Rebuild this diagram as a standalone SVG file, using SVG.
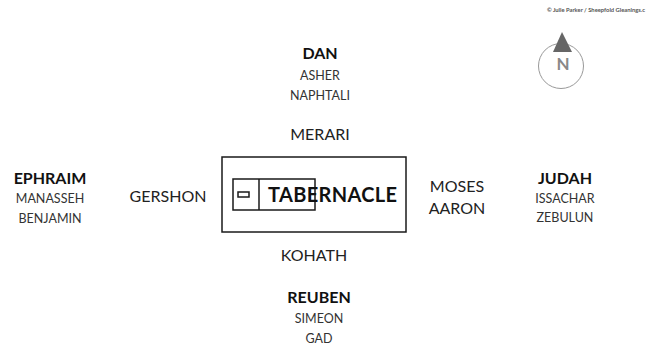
<svg xmlns="http://www.w3.org/2000/svg" width="646" height="345" viewBox="0 0 646 345">
<style>
text{font-family:"Lato","Liberation Sans",sans-serif;fill:#111;text-anchor:middle}
.tribe{font-size:16px;font-weight:bold}
.sub{font-size:12.5px;fill:#333}
.levi{font-size:16px;fill:#222}
.box{fill:none;stroke:#1a1a1a;stroke-width:1.5}
</style>
<rect width="646" height="345" fill="#fff"/>
<text x="645" y="12" style="font-size:5.8px;font-weight:bold;fill:#555;text-anchor:end">© Julie Parker / Sheepfold Gleanings.c</text>
<g id="compass">
<circle cx="561" cy="66" r="22.5" fill="none" stroke="#999" stroke-width="1"/>
<polygon points="562,32 553,52 572,52" fill="#666"/>
<text x="563" y="70" style="font-size:17px;font-weight:bold;fill:#888">N</text>
</g>
<g id="tabernacle">
<rect class="box" x="222" y="157" width="184" height="75"/>
<rect class="box" x="233" y="179" width="82" height="31"/>
<line class="box" x1="259" y1="179" x2="259" y2="210"/>
<rect class="box" x="238" y="192" width="11" height="5" stroke-width="1.2"/>
<text x="332.5" y="202" textLength="129" lengthAdjust="spacing" style="font-size:20px;font-weight:bold">TABERNACLE</text>
</g>
<g id="north">
<text class="tribe" x="320" y="59">DAN</text>
<text class="sub" x="320" y="80">ASHER</text>
<text class="sub" x="320" y="100">NAPHTALI</text>
</g>
<g id="merari"><text class="levi" x="320" y="140">MERARI</text></g>
<g id="west">
<text class="tribe" x="50" y="184">EPHRAIM</text>
<text class="sub" x="50" y="203">MANASSEH</text>
<text class="sub" x="50" y="223">BENJAMIN</text>
</g>
<g id="gershon"><text class="levi" x="168" y="202">GERSHON</text></g>
<g id="moses">
<text class="levi" x="457" y="192">MOSES</text>
<text class="levi" x="457" y="214">AARON</text>
</g>
<g id="east">
<text class="tribe" x="565" y="184">JUDAH</text>
<text class="sub" x="565" y="203">ISSACHAR</text>
<text class="sub" x="565" y="222">ZEBULUN</text>
</g>
<g id="kohath"><text class="levi" x="314" y="261">KOHATH</text></g>
<g id="south">
<text class="tribe" x="319" y="303">REUBEN</text>
<text class="sub" x="319" y="323">SIMEON</text>
<text class="sub" x="319" y="343">GAD</text>
</g>
<g id="connectors"></g>
</svg>
